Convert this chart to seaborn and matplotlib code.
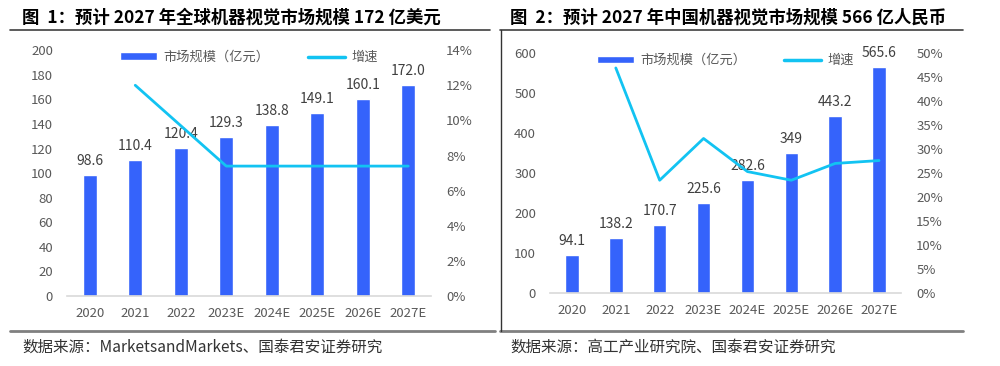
import numpy as np
import pandas as pd
import matplotlib
matplotlib.use("Agg")
import matplotlib.pyplot as plt
from matplotlib.lines import Line2D
from matplotlib.patches import Patch
from matplotlib.ticker import FuncFormatter
import seaborn as sns

YEARS = ["2020", "2021", "2022", "2023E", "2024E", "2025E", "2026E", "2027E"]

# figure 1: global market (100M USD) and growth (%)
GLOBAL_SIZE = [98.6, 110.4, 120.4, 129.3, 138.8, 149.1, 160.1, 172.0]
GLOBAL_GROWTH = [np.nan, 12.0, 9.7, 7.4, 7.4, 7.4, 7.4, 7.4]
GLOBAL_LABELS = ["98.6", "110.4", "120.4", "129.3", "138.8", "149.1", "160.1", "172.0"]

# figure 2: China market (100M RMB) and growth (%)
CHINA_SIZE = [94.1, 138.2, 170.7, 225.6, 282.6, 349.0, 443.2, 565.6]
CHINA_GROWTH = [np.nan, 46.9, 23.5, 32.2, 25.3, 23.5, 27.0, 27.6]
CHINA_LABELS = ["94.1", "138.2", "170.7", "225.6", "282.6", "349", "443.2", "565.6"]

BAR_COLOR = "#3563FB"
LINE_COLOR = "#12C3F2"
TICK_COLOR = "#595959"

sns.set_style("white")
plt.rcParams["font.family"] = ["Noto Sans CJK SC", "DejaVu Sans"]


def draw_panel(fig, rect, sizes, growth, labels, ymax, ystep, gmax, gstep):
    df = pd.DataFrame({"year": YEARS, "size": sizes, "growth": growth})
    ax = fig.add_axes(rect)
    sns.barplot(data=df, x="year", y="size", color=BAR_COLOR, width=0.31,
                saturation=1, ax=ax)
    ax.bar_label(ax.containers[0], labels=labels, padding=5, fontsize=10,
                 color="#404040")
    ax.set_ylim(0, ymax)
    ax.set_yticks(np.arange(0, ymax + 1, ystep))
    ax.set_xlim(-0.5, len(YEARS) - 0.5)
    ax.set_xlabel("")
    ax.set_ylabel("")

    ax2 = ax.twinx()
    sns.lineplot(data=df, x="year", y="growth", color=LINE_COLOR, linewidth=2,
                 ax=ax2, sort=False)
    ax2.set_ylim(0, gmax)
    ax2.set_yticks(np.arange(0, gmax + 0.01, gstep))
    ax2.yaxis.set_major_formatter(FuncFormatter(lambda v, p: f"{v:.0f}%"))
    ax2.set_ylabel("")

    for a in (ax, ax2):
        for s in a.spines.values():
            s.set_visible(False)
        a.tick_params(length=0, labelsize=9.5, colors=TICK_COLOR)
    ax.spines["bottom"].set_visible(True)
    ax.spines["bottom"].set_color("#D9D9D9")
    ax.spines["bottom"].set_linewidth(1.2)
    ax.tick_params(axis="y", pad=10)
    ax.tick_params(axis="x", pad=8)
    ax2.tick_params(axis="y", pad=11)

    handles = [Patch(facecolor=BAR_COLOR, label="市场规模（亿元）"),
               Line2D([], [], color=LINE_COLOR, linewidth=2.5, label="增速")]
    ax.legend(handles=handles, loc="upper center", bbox_to_anchor=(0.5, 1.045),
              ncol=2, frameon=False, fontsize=9.5, labelcolor=TICK_COLOR,
              handlelength=2.8, handleheight=0.55, columnspacing=2.9,
              handletextpad=0.5)
    return ax


fig = plt.figure(figsize=(10, 3.66), dpi=100)

draw_panel(fig, [0.067, 0.191, 0.364, 0.672], GLOBAL_SIZE, GLOBAL_GROWTH,
           GLOBAL_LABELS, 200, 20, 14, 2)
draw_panel(fig, [0.550, 0.1995, 0.351, 0.6555], CHINA_SIZE, CHINA_GROWTH,
           CHINA_LABELS, 600, 100, 50, 5)

# titles
fig.text(0.022, 0.952, "图  1：预计 2027 年全球机器视觉市场规模 172 亿美元",
         fontsize=12.5, fontweight="bold", color="black", va="center")
fig.text(0.510, 0.952, "图  2：预计 2027 年中国机器视觉市场规模 566 亿人民币",
         fontsize=12.5, fontweight="bold", color="black", va="center")

# sources
fig.text(0.022, 0.052, "数据来源：MarketsandMarkets、国泰君安证券研究",
         fontsize=11.2, color="#333333", va="center")
fig.text(0.510, 0.052, "数据来源：高工产业研究院、国泰君安证券研究",
         fontsize=11.2, color="#333333", va="center")

# frame lines
top_y = 1 - 30 / 366
bot_y = 1 - 331 / 366
fig.add_artist(Line2D([0.010, 0.490], [top_y, top_y], color="#404040", lw=1.2))
fig.add_artist(Line2D([0.500, 0.963], [top_y, top_y], color="#404040", lw=1.2))
fig.add_artist(Line2D([0.010, 0.495], [bot_y, bot_y], color="#808080", lw=2))
fig.add_artist(Line2D([0.500, 0.963], [bot_y, bot_y], color="#808080", lw=2))
fig.add_artist(Line2D([0.5007, 0.5007], [bot_y, top_y], color="#333333", lw=1))

fig.savefig("out.png", dpi=100)
